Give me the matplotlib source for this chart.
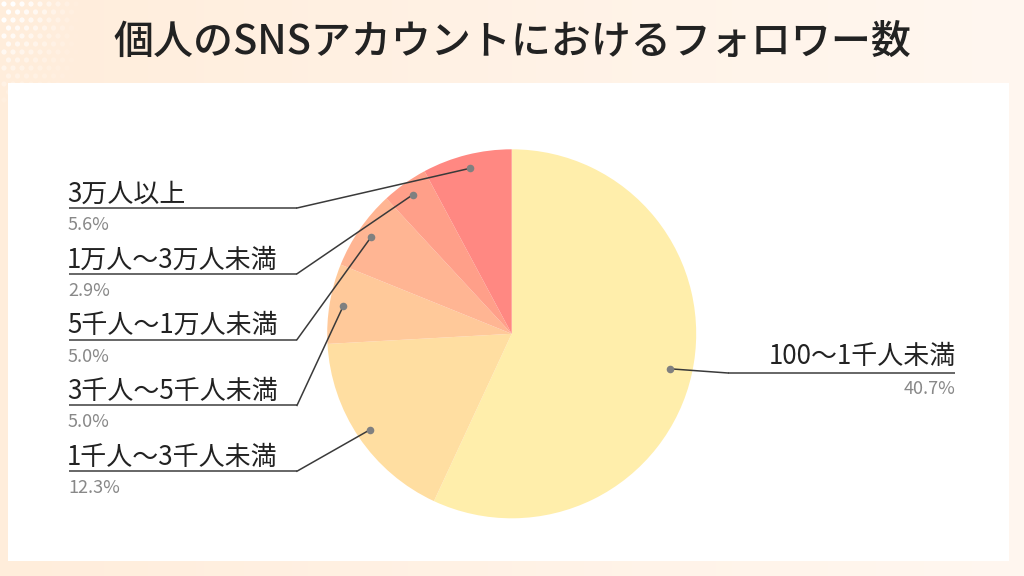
import numpy as np
import matplotlib
matplotlib.use("Agg")
import matplotlib.pyplot as plt
from matplotlib.patches import Rectangle

plt.rcParams['font.family'] = ['Noto Sans CJK JP', 'DejaVu Sans']

title = "個人のSNSアカウントにおけるフォロワー数"
categories = ["100～1千人未満", "1千人～3千人未満", "3千人～5千人未満",
              "5千人～1万人未満", "1万人～3万人未満", "3万人以上"]
values = [40.7, 12.3, 5.0, 5.0, 2.9, 5.6]
colors = ["#FFEEAB", "#FFDEA1", "#FFC99A", "#FFB593", "#FF9F89", "#FF8882"]

W, H = 1024, 576
fig = plt.figure(figsize=(W / 100, H / 100), dpi=100)
ax = fig.add_axes([0, 0, 1, 1])
ax.set_xlim(0, W)
ax.set_ylim(0, H)
ax.axis('off')

def Y(py):
    return H - py

# background gradient
c1 = np.array([0xFF, 0xED, 0xDB]) / 255
c2 = np.array([0xFF, 0xF7, 0xF0]) / 255
t = np.linspace(0, 1, 256)
grad = (c1[None, :] * (1 - t[:, None]) + c2[None, :] * t[:, None])[None, :, :]
ax.imshow(grad, extent=[0, W, 0, H], aspect='auto', zorder=0)

# dotted pattern top-left
xs, ys, al = [], [], []
for r in range(14):
    for c in range(10):
        x = 4 + c * 9 + (4.5 if r % 2 else 0)
        y = 4 + r * 8
        a = max(0, 1 - x / 80) * max(0, 1 - y / 110)
        if a > 0.02:
            xs.append(x); ys.append(Y(y)); al.append(a)
cols = [(1, 1, 1, min(1, a * 1.3)) for a in al]
ax.scatter(xs, ys, s=14, c=cols, linewidths=0, zorder=1)

# white panel
ax.add_patch(Rectangle((8, Y(561)), 1001, 561 - 83, facecolor='white',
                       edgecolor='none', zorder=2))

# title
ax.text(512, Y(42), title, ha='center', va='center', fontsize=28.8,
        fontweight='medium', color='#222222', zorder=5)

# pie
cx, cy, R = 511.7, Y(333.8), 184.5
wedges, _ = ax.pie(values, colors=colors, startangle=90, counterclock=False,
                   center=(cx, cy), radius=R, frame=True,
                   wedgeprops=dict(linewidth=0))
for w in wedges:
    w.set_zorder(3)
ax.set_xlim(0, W)
ax.set_ylim(0, H)
ax.set_aspect('equal')
ax.axis('off')

def mid_point(w, frac):
    a = np.deg2rad((w.theta1 + w.theta2) / 2)
    return cx + frac * R * np.cos(a), cy + frac * R * np.sin(a)

line_col = '#3a3a3a'
ul_col = '#666666'
dot_col = '#808080'

# left labels, top to bottom
left_idx = [5, 4, 3, 2, 1]
for k, i in enumerate(left_idx):
    uy = 208 + k * 65.8
    px, py = mid_point(wedges[i], 0.925)
    ax.plot([69, 297], [Y(uy), Y(uy)], color=ul_col, lw=1.4, zorder=4,
            solid_capstyle='butt')
    ax.plot([297, px], [Y(uy), py], color=line_col, lw=1.1, zorder=4)
    ax.scatter([px], [py], s=30, color=dot_col, zorder=5, linewidths=0)
    ax.text(67, Y(uy - 6.5), categories[i], ha='left', va='baseline',
            fontsize=18.7, color='#222222', zorder=5)
    ax.text(68, Y(uy + 22), f"{values[i]:.1f}%", ha='left', va='baseline',
            fontsize=13, color='#888888', zorder=5)

# right label
uy = 373
px, py = mid_point(wedges[0], 0.88)
ax.plot([728, 955], [Y(uy), Y(uy)], color=ul_col, lw=1.4, zorder=4,
        solid_capstyle='butt')
ax.plot([728, px], [Y(uy), py], color=line_col, lw=1.1, zorder=4)
ax.scatter([px], [py], s=30, color=dot_col, zorder=5, linewidths=0)
ax.text(956, Y(uy - 9), categories[0], ha='right', va='baseline',
        fontsize=18.7, color='#222222', zorder=5)
ax.text(956, Y(uy + 21), f"{values[0]:.1f}%", ha='right', va='baseline',
        fontsize=13, color='#888888', zorder=5)

fig.savefig("out.png", dpi=100)
